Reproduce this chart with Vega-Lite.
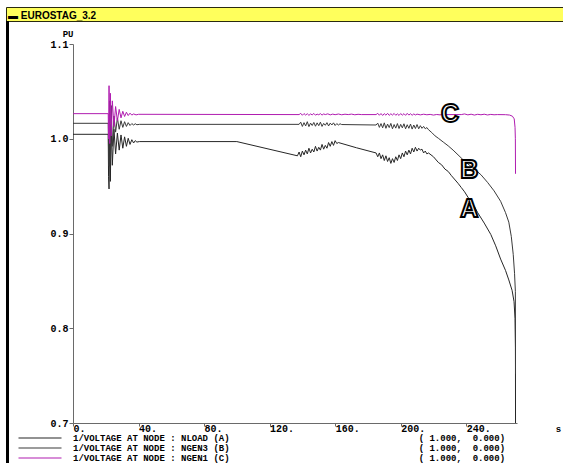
{
  "$schema": "https://vega.github.io/schema/vega-lite/v6.json",
  "background": "white",
  "padding": {"top": 6, "left": 5, "right": 0, "bottom": 0},
  "spacing": 0,
  "bounds": "flush",
  "config": {"view": {"stroke": null}},
  "vconcat": [
    {
      "width": 558,
      "height": 14,
      "view": {"fill": "#ffff5c", "stroke": "#2a2a10", "strokeWidth": 1},
      "title": {
        "text": "▬ EUROSTAG_3.2",
        "anchor": "start",
        "frame": "group",
        "orient": "top",
        "offset": -11,
        "dx": 2,
        "dy": 10.5,
        "font": "Liberation Sans",
        "fontSize": 10,
        "fontWeight": "bold",
        "color": "black",
        "baseline": "alphabetic"
      },
      "data": {"values": []},
      "mark": "rect"
    },
    {
      "spacing": 0,
      "bounds": "flush",
      "hconcat": [
        {
          "width": 3,
          "height": 443,
          "view": {"fill": "black", "stroke": null},
          "data": {"values": []},
          "mark": "rect"
        },
        {
          "width": 64,
          "height": 443,
          "data": {"values": []},
          "mark": "rect"
        },
        {
          "spacing": 0,
          "bounds": "flush",
          "vconcat": [
            {
              "width": 444,
              "height": 23,
              "data": {"values": []},
              "mark": "rect"
            },
            {
              "width": 444,
              "height": 379,
              "data": {
                "values": [
                  {"s": "A", "t": 0, "v": 1.0047},
                  {"s": "A", "t": 21.5, "v": 1.0047},
                  {"s": "A", "t": 21.7, "v": 0.960},
                  {"s": "A", "t": 22.0, "v": 0.947},
                  {"s": "A", "t": 22.4, "v": 1.010},
                  {"s": "A", "t": 22.8, "v": 0.955},
                  {"s": "A", "t": 23.3, "v": 1.015},
                  {"s": "A", "t": 24.0, "v": 0.972},
                  {"s": "A", "t": 25.0, "v": 1.010},
                  {"s": "A", "t": 26.0, "v": 0.984},
                  {"s": "A", "t": 27.1, "v": 1.006},
                  {"s": "A", "t": 28.2, "v": 0.988},
                  {"s": "A", "t": 29.3, "v": 1.004},
                  {"s": "A", "t": 30.4, "v": 0.990},
                  {"s": "A", "t": 31.5, "v": 1.002},
                  {"s": "A", "t": 32.6, "v": 0.992},
                  {"s": "A", "t": 33.7, "v": 1.0005},
                  {"s": "A", "t": 34.8, "v": 0.994},
                  {"s": "A", "t": 35.9, "v": 0.999},
                  {"s": "A", "t": 37, "v": 0.9955},
                  {"s": "A", "t": 38, "v": 0.998},
                  {"s": "A", "t": 39, "v": 0.9965},
                  {"s": "A", "t": 40.5, "v": 0.997},
                  {"s": "A", "t": 100, "v": 0.997},
                  {"s": "A", "t": 137, "v": 0.982},
                  {"s": "A", "t": 138, "v": 0.986},
                  {"s": "A", "t": 139, "v": 0.981},
                  {"s": "A", "t": 140, "v": 0.987},
                  {"s": "A", "t": 141, "v": 0.983},
                  {"s": "A", "t": 142, "v": 0.988},
                  {"s": "A", "t": 143, "v": 0.984},
                  {"s": "A", "t": 144, "v": 0.990},
                  {"s": "A", "t": 145, "v": 0.985},
                  {"s": "A", "t": 146, "v": 0.989},
                  {"s": "A", "t": 147, "v": 0.986},
                  {"s": "A", "t": 148, "v": 0.992},
                  {"s": "A", "t": 149, "v": 0.987},
                  {"s": "A", "t": 150, "v": 0.991},
                  {"s": "A", "t": 151, "v": 0.988},
                  {"s": "A", "t": 152, "v": 0.994},
                  {"s": "A", "t": 153, "v": 0.989},
                  {"s": "A", "t": 154, "v": 0.993},
                  {"s": "A", "t": 155, "v": 0.990},
                  {"s": "A", "t": 156, "v": 0.996},
                  {"s": "A", "t": 157, "v": 0.992},
                  {"s": "A", "t": 158, "v": 0.997},
                  {"s": "A", "t": 159, "v": 0.993},
                  {"s": "A", "t": 160, "v": 0.998},
                  {"s": "A", "t": 161, "v": 0.995},
                  {"s": "A", "t": 162, "v": 0.996},
                  {"s": "A", "t": 173, "v": 0.9905},
                  {"s": "A", "t": 185, "v": 0.985},
                  {"s": "A", "t": 186, "v": 0.981},
                  {"s": "A", "t": 187, "v": 0.985},
                  {"s": "A", "t": 188, "v": 0.979},
                  {"s": "A", "t": 189, "v": 0.983},
                  {"s": "A", "t": 190, "v": 0.977},
                  {"s": "A", "t": 191, "v": 0.982},
                  {"s": "A", "t": 192, "v": 0.976},
                  {"s": "A", "t": 193, "v": 0.980},
                  {"s": "A", "t": 194, "v": 0.974},
                  {"s": "A", "t": 195, "v": 0.979},
                  {"s": "A", "t": 196, "v": 0.975},
                  {"s": "A", "t": 197, "v": 0.981},
                  {"s": "A", "t": 198, "v": 0.977},
                  {"s": "A", "t": 199, "v": 0.983},
                  {"s": "A", "t": 200, "v": 0.979},
                  {"s": "A", "t": 201, "v": 0.985},
                  {"s": "A", "t": 202, "v": 0.981},
                  {"s": "A", "t": 203, "v": 0.987},
                  {"s": "A", "t": 204, "v": 0.983},
                  {"s": "A", "t": 205, "v": 0.988},
                  {"s": "A", "t": 206, "v": 0.984},
                  {"s": "A", "t": 207, "v": 0.990},
                  {"s": "A", "t": 208, "v": 0.986},
                  {"s": "A", "t": 209, "v": 0.991},
                  {"s": "A", "t": 210, "v": 0.987},
                  {"s": "A", "t": 211, "v": 0.990},
                  {"s": "A", "t": 212, "v": 0.988},
                  {"s": "A", "t": 213, "v": 0.989},
                  {"s": "A", "t": 214, "v": 0.985},
                  {"s": "A", "t": 215, "v": 0.987},
                  {"s": "A", "t": 216, "v": 0.984},
                  {"s": "A", "t": 217, "v": 0.985},
                  {"s": "A", "t": 220, "v": 0.981},
                  {"s": "A", "t": 223, "v": 0.975},
                  {"s": "A", "t": 225, "v": 0.9725},
                  {"s": "A", "t": 227, "v": 0.968},
                  {"s": "A", "t": 229, "v": 0.9655},
                  {"s": "A", "t": 231, "v": 0.961},
                  {"s": "A", "t": 235, "v": 0.953},
                  {"s": "A", "t": 237, "v": 0.9485},
                  {"s": "A", "t": 239, "v": 0.944},
                  {"s": "A", "t": 243, "v": 0.933},
                  {"s": "A", "t": 245, "v": 0.9285},
                  {"s": "A", "t": 247, "v": 0.922},
                  {"s": "A", "t": 251, "v": 0.911},
                  {"s": "A", "t": 255, "v": 0.899},
                  {"s": "A", "t": 258, "v": 0.887},
                  {"s": "A", "t": 261, "v": 0.873},
                  {"s": "A", "t": 264, "v": 0.861},
                  {"s": "A", "t": 266, "v": 0.851},
                  {"s": "A", "t": 268, "v": 0.840},
                  {"s": "A", "t": 269.2, "v": 0.828},
                  {"s": "A", "t": 269.8, "v": 0.810},
                  {"s": "A", "t": 270.05, "v": 0.780},
                  {"s": "A", "t": 270.1, "v": 0.700},

                  {"s": "B", "t": 0, "v": 1.0163},
                  {"s": "B", "t": 21.5, "v": 1.0163},
                  {"s": "B", "t": 21.7, "v": 0.985},
                  {"s": "B", "t": 22.0, "v": 0.971},
                  {"s": "B", "t": 22.4, "v": 1.040},
                  {"s": "B", "t": 22.8, "v": 0.980},
                  {"s": "B", "t": 23.3, "v": 1.035},
                  {"s": "B", "t": 24.0, "v": 0.992},
                  {"s": "B", "t": 25.0, "v": 1.024},
                  {"s": "B", "t": 26.0, "v": 1.007},
                  {"s": "B", "t": 27.1, "v": 1.022},
                  {"s": "B", "t": 28.2, "v": 1.010},
                  {"s": "B", "t": 29.3, "v": 1.019},
                  {"s": "B", "t": 30.4, "v": 1.012},
                  {"s": "B", "t": 31.5, "v": 1.018},
                  {"s": "B", "t": 32.6, "v": 1.013},
                  {"s": "B", "t": 33.7, "v": 1.017},
                  {"s": "B", "t": 34.8, "v": 1.014},
                  {"s": "B", "t": 35.9, "v": 1.016},
                  {"s": "B", "t": 37, "v": 1.0145},
                  {"s": "B", "t": 38, "v": 1.0158},
                  {"s": "B", "t": 39, "v": 1.0148},
                  {"s": "B", "t": 40.5, "v": 1.0152},
                  {"s": "B", "t": 138, "v": 1.0152},
                  {"s": "B", "t": 139, "v": 1.0175},
                  {"s": "B", "t": 140, "v": 1.013},
                  {"s": "B", "t": 141, "v": 1.017},
                  {"s": "B", "t": 142, "v": 1.0135},
                  {"s": "B", "t": 143, "v": 1.018},
                  {"s": "B", "t": 144, "v": 1.0128},
                  {"s": "B", "t": 145, "v": 1.0165},
                  {"s": "B", "t": 146, "v": 1.014},
                  {"s": "B", "t": 147, "v": 1.0172},
                  {"s": "B", "t": 148, "v": 1.0132},
                  {"s": "B", "t": 149, "v": 1.0168},
                  {"s": "B", "t": 150, "v": 1.0138},
                  {"s": "B", "t": 151, "v": 1.0175},
                  {"s": "B", "t": 152, "v": 1.013},
                  {"s": "B", "t": 153, "v": 1.0162},
                  {"s": "B", "t": 154, "v": 1.0142},
                  {"s": "B", "t": 155, "v": 1.017},
                  {"s": "B", "t": 156, "v": 1.0135},
                  {"s": "B", "t": 157, "v": 1.0165},
                  {"s": "B", "t": 158, "v": 1.0145},
                  {"s": "B", "t": 159, "v": 1.0168},
                  {"s": "B", "t": 160, "v": 1.014},
                  {"s": "B", "t": 161, "v": 1.016},
                  {"s": "B", "t": 162, "v": 1.0145},
                  {"s": "B", "t": 163, "v": 1.0158},
                  {"s": "B", "t": 164, "v": 1.015},
                  {"s": "B", "t": 185, "v": 1.0145},
                  {"s": "B", "t": 186, "v": 1.0165},
                  {"s": "B", "t": 187, "v": 1.012},
                  {"s": "B", "t": 188, "v": 1.016},
                  {"s": "B", "t": 189, "v": 1.0115},
                  {"s": "B", "t": 190, "v": 1.0168},
                  {"s": "B", "t": 191, "v": 1.011},
                  {"s": "B", "t": 192, "v": 1.0155},
                  {"s": "B", "t": 193, "v": 1.0118},
                  {"s": "B", "t": 194, "v": 1.0162},
                  {"s": "B", "t": 195, "v": 1.0105},
                  {"s": "B", "t": 196, "v": 1.015},
                  {"s": "B", "t": 197, "v": 1.0112},
                  {"s": "B", "t": 198, "v": 1.016},
                  {"s": "B", "t": 199, "v": 1.0108},
                  {"s": "B", "t": 200, "v": 1.0152},
                  {"s": "B", "t": 201, "v": 1.0115},
                  {"s": "B", "t": 202, "v": 1.0158},
                  {"s": "B", "t": 203, "v": 1.0105},
                  {"s": "B", "t": 204, "v": 1.0148},
                  {"s": "B", "t": 205, "v": 1.011},
                  {"s": "B", "t": 206, "v": 1.0155},
                  {"s": "B", "t": 207, "v": 1.0102},
                  {"s": "B", "t": 208, "v": 1.0145},
                  {"s": "B", "t": 209, "v": 1.0108},
                  {"s": "B", "t": 210, "v": 1.015},
                  {"s": "B", "t": 211, "v": 1.0105},
                  {"s": "B", "t": 212, "v": 1.0138},
                  {"s": "B", "t": 213, "v": 1.011},
                  {"s": "B", "t": 214, "v": 1.013},
                  {"s": "B", "t": 215, "v": 1.0105},
                  {"s": "B", "t": 216, "v": 1.0118},
                  {"s": "B", "t": 217, "v": 1.0095},
                  {"s": "B", "t": 219, "v": 1.0065},
                  {"s": "B", "t": 221, "v": 1.003},
                  {"s": "B", "t": 223, "v": 1.0005},
                  {"s": "B", "t": 226, "v": 0.9965},
                  {"s": "B", "t": 229, "v": 0.9925},
                  {"s": "B", "t": 232, "v": 0.988},
                  {"s": "B", "t": 235, "v": 0.983},
                  {"s": "B", "t": 238, "v": 0.978},
                  {"s": "B", "t": 241, "v": 0.9735},
                  {"s": "B", "t": 245, "v": 0.968},
                  {"s": "B", "t": 249, "v": 0.962},
                  {"s": "B", "t": 253, "v": 0.954},
                  {"s": "B", "t": 257, "v": 0.945},
                  {"s": "B", "t": 261, "v": 0.934},
                  {"s": "B", "t": 264, "v": 0.922},
                  {"s": "B", "t": 266, "v": 0.912},
                  {"s": "B", "t": 267.5, "v": 0.897},
                  {"s": "B", "t": 268.7, "v": 0.878},
                  {"s": "B", "t": 269.5, "v": 0.858},
                  {"s": "B", "t": 270, "v": 0.839},
                  {"s": "B", "t": 270.1, "v": 0.752},

                  {"s": "C", "t": 0, "v": 1.0265},
                  {"s": "C", "t": 21.5, "v": 1.0265},
                  {"s": "C", "t": 21.7, "v": 1.000},
                  {"s": "C", "t": 22.0, "v": 1.056},
                  {"s": "C", "t": 22.4, "v": 0.995},
                  {"s": "C", "t": 22.8, "v": 1.048},
                  {"s": "C", "t": 23.3, "v": 1.003},
                  {"s": "C", "t": 24.0, "v": 1.040},
                  {"s": "C", "t": 25.0, "v": 1.013},
                  {"s": "C", "t": 26.0, "v": 1.034},
                  {"s": "C", "t": 27.1, "v": 1.019},
                  {"s": "C", "t": 28.2, "v": 1.031},
                  {"s": "C", "t": 29.3, "v": 1.022},
                  {"s": "C", "t": 30.4, "v": 1.029},
                  {"s": "C", "t": 31.5, "v": 1.0235},
                  {"s": "C", "t": 32.6, "v": 1.028},
                  {"s": "C", "t": 33.7, "v": 1.0245},
                  {"s": "C", "t": 34.8, "v": 1.027},
                  {"s": "C", "t": 35.9, "v": 1.025},
                  {"s": "C", "t": 37, "v": 1.0262},
                  {"s": "C", "t": 38.5, "v": 1.0252},
                  {"s": "C", "t": 40, "v": 1.0258},
                  {"s": "C", "t": 138, "v": 1.0255},
                  {"s": "C", "t": 139, "v": 1.0268},
                  {"s": "C", "t": 140, "v": 1.0248},
                  {"s": "C", "t": 141, "v": 1.0266},
                  {"s": "C", "t": 142, "v": 1.0250},
                  {"s": "C", "t": 143, "v": 1.0264},
                  {"s": "C", "t": 144, "v": 1.0247},
                  {"s": "C", "t": 145, "v": 1.0262},
                  {"s": "C", "t": 146, "v": 1.0252},
                  {"s": "C", "t": 147, "v": 1.0267},
                  {"s": "C", "t": 148, "v": 1.0249},
                  {"s": "C", "t": 149, "v": 1.0260},
                  {"s": "C", "t": 150, "v": 1.0253},
                  {"s": "C", "t": 151, "v": 1.0265},
                  {"s": "C", "t": 152, "v": 1.0250},
                  {"s": "C", "t": 153, "v": 1.0262},
                  {"s": "C", "t": 154, "v": 1.0255},
                  {"s": "C", "t": 155.5, "v": 1.0263},
                  {"s": "C", "t": 157, "v": 1.0252},
                  {"s": "C", "t": 158.5, "v": 1.0260},
                  {"s": "C", "t": 160, "v": 1.0254},
                  {"s": "C", "t": 162, "v": 1.0261},
                  {"s": "C", "t": 164, "v": 1.0253},
                  {"s": "C", "t": 166, "v": 1.0259},
                  {"s": "C", "t": 168, "v": 1.0255},
                  {"s": "C", "t": 170, "v": 1.0260},
                  {"s": "C", "t": 172, "v": 1.0253},
                  {"s": "C", "t": 174, "v": 1.0258},
                  {"s": "C", "t": 176, "v": 1.0255},
                  {"s": "C", "t": 185, "v": 1.0255},
                  {"s": "C", "t": 186, "v": 1.0268},
                  {"s": "C", "t": 187, "v": 1.0248},
                  {"s": "C", "t": 188, "v": 1.0266},
                  {"s": "C", "t": 189, "v": 1.0246},
                  {"s": "C", "t": 190, "v": 1.0265},
                  {"s": "C", "t": 191, "v": 1.0249},
                  {"s": "C", "t": 192, "v": 1.0268},
                  {"s": "C", "t": 193, "v": 1.0247},
                  {"s": "C", "t": 194, "v": 1.0264},
                  {"s": "C", "t": 195, "v": 1.0250},
                  {"s": "C", "t": 196, "v": 1.0267},
                  {"s": "C", "t": 197, "v": 1.0248},
                  {"s": "C", "t": 198, "v": 1.0263},
                  {"s": "C", "t": 199, "v": 1.0246},
                  {"s": "C", "t": 200, "v": 1.0266},
                  {"s": "C", "t": 201, "v": 1.0249},
                  {"s": "C", "t": 202, "v": 1.0265},
                  {"s": "C", "t": 203, "v": 1.0247},
                  {"s": "C", "t": 204, "v": 1.0268},
                  {"s": "C", "t": 205, "v": 1.0250},
                  {"s": "C", "t": 206, "v": 1.0264},
                  {"s": "C", "t": 207, "v": 1.0248},
                  {"s": "C", "t": 208, "v": 1.0262},
                  {"s": "C", "t": 209, "v": 1.0251},
                  {"s": "C", "t": 210, "v": 1.0260},
                  {"s": "C", "t": 212, "v": 1.0252},
                  {"s": "C", "t": 214, "v": 1.0259},
                  {"s": "C", "t": 216, "v": 1.0253},
                  {"s": "C", "t": 218, "v": 1.0257},
                  {"s": "C", "t": 220, "v": 1.0250},
                  {"s": "C", "t": 222, "v": 1.0256},
                  {"s": "C", "t": 224, "v": 1.0252},
                  {"s": "C", "t": 226, "v": 1.0255},
                  {"s": "C", "t": 237, "v": 1.0255},
                  {"s": "C", "t": 239, "v": 1.0262},
                  {"s": "C", "t": 241, "v": 1.0252},
                  {"s": "C", "t": 243, "v": 1.0259},
                  {"s": "C", "t": 245, "v": 1.0250},
                  {"s": "C", "t": 247, "v": 1.0258},
                  {"s": "C", "t": 249, "v": 1.0253},
                  {"s": "C", "t": 251, "v": 1.0259},
                  {"s": "C", "t": 253, "v": 1.0251},
                  {"s": "C", "t": 255, "v": 1.0257},
                  {"s": "C", "t": 257, "v": 1.0253},
                  {"s": "C", "t": 259, "v": 1.0255},
                  {"s": "C", "t": 264, "v": 1.0254},
                  {"s": "C", "t": 266.5, "v": 1.0250},
                  {"s": "C", "t": 268.2, "v": 1.0238},
                  {"s": "C", "t": 269.3, "v": 1.0210},
                  {"s": "C", "t": 269.8, "v": 1.0120},
                  {"s": "C", "t": 270, "v": 1.0000},
                  {"s": "C", "t": 270.1, "v": 0.9630}
                ]
              },
              "layer": [
                {
                  "mark": {"type": "line", "strokeWidth": 1, "clip": true},
                  "encoding": {
                    "x": {
                      "field": "t",
                      "type": "quantitative",
                      "scale": {"domain": [0, 271], "nice": false, "zero": false},
                      "axis": {
                        "values": [0, 40, 80, 120, 160, 200, 240],
                        "labelExpr": "datum.value + '.'",
                        "labelAlign": "left",
                        "labelFlush": false,
                        "labelOverlap": false,
                        "labelFont": "Liberation Mono",
                        "labelFontSize": 10,
                        "labelFontWeight": "bold",
                        "labelColor": "black",
                        "labelPadding": -3,
                        "tickSize": 3,
                        "tickColor": "#6a6a6a",
                        "domainColor": "#6a6a6a",
                        "grid": false,
                        "title": "s",
                        "titleX": 485,
                        "titleY": 1,
                        "titleAlign": "center",
                        "titleBaseline": "top",
                        "titleFont": "Liberation Mono",
                        "titleFontSize": 9,
                        "titleFontWeight": "bold",
                        "titleColor": "black"
                      }
                    },
                    "y": {
                      "field": "v",
                      "type": "quantitative",
                      "scale": {"domain": [0.7, 1.1], "nice": false, "zero": false},
                      "axis": {
                        "values": [0.7, 0.8, 0.9, 1.0, 1.1],
                        "format": ".1f",
                        "labelFont": "Liberation Mono",
                        "labelFontSize": 10,
                        "labelFontWeight": "bold",
                        "labelColor": "black",
                        "labelPadding": 1,
                        "tickSize": 4,
                        "tickColor": "#6a6a6a",
                        "domainColor": "#6a6a6a",
                        "grid": false,
                        "title": "PU",
                        "titleAngle": 0,
                        "titleX": 0,
                        "titleY": -6,
                        "titleAlign": "right",
                        "titleBaseline": "bottom",
                        "titleFont": "Liberation Mono",
                        "titleFontSize": 9,
                        "titleFontWeight": "bold",
                        "titleColor": "black"
                      }
                    },
                    "color": {
                      "field": "s",
                      "type": "nominal",
                      "scale": {"domain": ["A", "B", "C"], "range": ["#262626", "#3a3a3a", "#b01cb0"]},
                      "legend": {
                        "orient": "none",
                        "legendX": 49,
                        "legendY": 426.5,
                        "title": null,
                        "symbolType": "M-20.5,0H1",
                        "symbolSize": 16,
                        "symbolStrokeWidth": 1.2,
                        "labelFont": "Liberation Mono",
                        "labelFontSize": 9,
                        "labelFontWeight": "bold",
                        "labelColor": "black",
                        "labelOffset": 9,
                        "labelLimit": 700,
                        "rowPadding": 0,
                        "labelExpr": "'1/VOLTAGE AT NODE : ' + (datum.value == 'A' ? 'NLOAD (A)' : datum.value == 'B' ? 'NGEN3 (B)' : 'NGEN1 (C)') + '\u00a0\u00a0\u00a0\u00a0\u00a0\u00a0\u00a0\u00a0\u00a0\u00a0\u00a0\u00a0\u00a0\u00a0\u00a0\u00a0\u00a0\u00a0\u00a0\u00a0\u00a0\u00a0\u00a0\u00a0\u00a0\u00a0\u00a0\u00a0\u00a0\u00a0\u00a0\u00a0\u00a0\u00a0\u00a0' + '( 1.000,\u00a0\u00a00.000)'"
                      }
                    }
                  }
                },
                {
                  "data": {
                    "values": [
                      {"lab": "C", "t": 230.2, "v": 1.0261},
                      {"lab": "B", "t": 241.8, "v": 0.967},
                      {"lab": "A", "t": 241.8, "v": 0.9259}
                    ]
                  },
                  "mark": {
                    "type": "text",
                    "font": "Liberation Sans",
                    "fontSize": 25,
                    "fontWeight": "bold",
                    "fill": "white",
                    "stroke": "black",
                    "strokeWidth": 2,
                    "align": "center",
                    "baseline": "middle"
                  },
                  "encoding": {
                    "x": {"field": "t", "type": "quantitative"},
                    "y": {"field": "v", "type": "quantitative"},
                    "text": {"field": "lab"}
                  }
                }
              ]
            }
          ]
        }
      ]
    }
  ]
}
